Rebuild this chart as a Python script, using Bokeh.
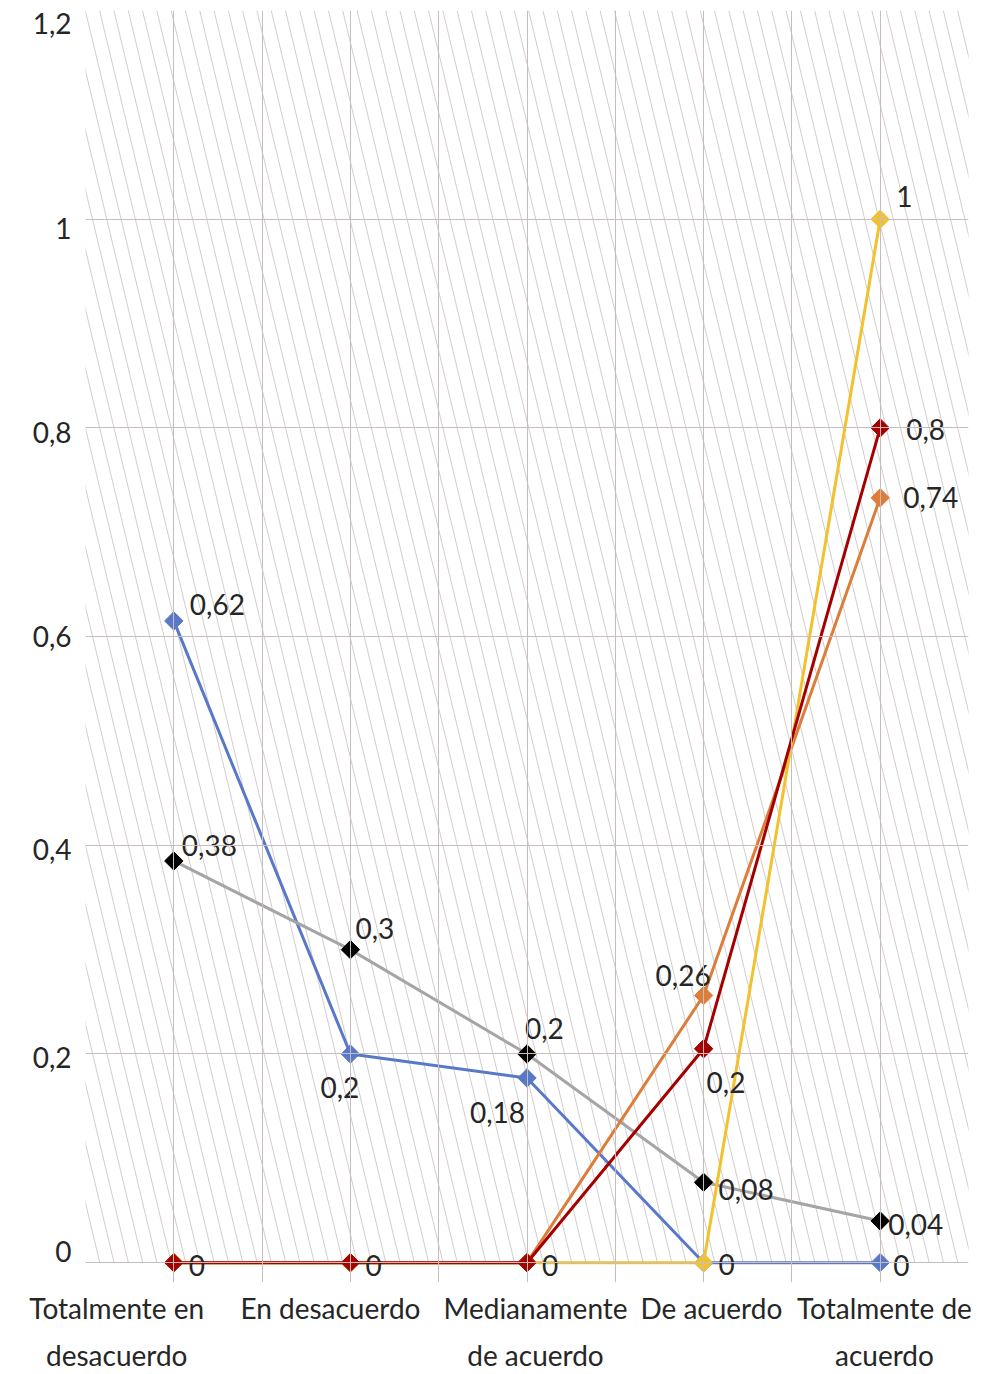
import numpy as np
from bokeh.plotting import figure
from bokeh.models import Range1d, FixedTicker, ColumnDataSource, LinearAxis
from bokeh.core.properties import value
from bokeh.embed import file_html
from bokeh.resources import INLINE

# ---------------- data ----------------
categories = ["Totalmente en\ndesacuerdo", "En desacuerdo", "Medianamente\nde acuerdo",
              "De acuerdo", "Totalmente de\nacuerdo"]
y_ticks = [0, 0.2, 0.4, 0.6, 0.8, 1.0, 1.2]
y_tick_labels = ["0", "0,2", "0,4", "0,6", "0,8", "1", "1,2"]

blue_values = [0.615, 0.2, 0.177, 0.0, 0.0]
blue_labels = ["0,62", "0,2", "0,18", "", "0"]
gray_values = [0.385, 0.3, 0.2, 0.077, 0.04]
gray_labels = ["0,38", "0,3", "0,2", "0,08", "0,04"]
orange_values = [0.0, 0.0, 0.0, 0.256, 0.733]
orange_labels = ["", "", "", "0,26", "0,74"]
yellow_values = [0.0, 0.0, 0.0, 0.0, 1.0]
yellow_labels = ["", "", "", "0", "1"]
red_values = [0.0, 0.0, 0.0, 0.205, 0.8]
red_labels = ["0", "0", "0", "0,2", "0,8"]

# ---------------- styling ----------------
FONT = "Lato"
FS = "28px"
TXT = "#262626"
GRID = "#C6BEBE"
HATCH = "#D3CCCC"

# label offsets in screen pixels (left edge / vertical centre relative to the marker)
blue_dx, blue_dy = [16, -30, -57, 0, 13], [-16, 34, 35, 0, 3]
gray_dx, gray_dy = [8, 5, -2, 15, 8], [-15, -21, -25, 7, 4]
orange_dx, orange_dy = [0, 0, 0, -48, 23], [0, 0, 0, -20, 0]
yellow_dx, yellow_dy = [0, 0, 0, 15, 16], [0, 0, 0, 2, -23]
red_dx, red_dy = [15, 15, 15, 3, 26], [3, 3, 3, 34, 2]
# shift of the category captions (category units) and of the value-axis captions (axis units)
x_label_shift = [-0.323, -0.113, 0.048, 0.044, 0.024]
y_label_shift = [0.0105, -0.003, -0.004, 0.0, -0.004, -0.0086, -0.0125]

xs = list(range(len(categories)))
x_lo, x_hi = -0.5, len(categories) - 0.5
y_lo, y_hi = 0, 1.2
y_pad = -0.019          # a little room under the zero line for markers / labels

p = figure(frame_width=883, frame_height=1272,
           x_range=Range1d(x_lo, x_hi), y_range=Range1d(y_pad, y_hi),
           output_backend="svg", toolbar_location=None,
           min_border_left=85, min_border_right=20, min_border_top=10, min_border_bottom=0)
p.outline_line_color = None
p.background_fill_color = "white"

# background hatch (decoration) computed from frame geometry
px_per_x = 883 / (x_hi - x_lo)
slant_px = 0.24 * 1252
drift = slant_px / px_per_x
step = 14.3 / px_per_x
tops = np.arange(x_lo - drift - step, x_hi + step, step)
p.multi_line(xs=[[t, t + drift] for t in tops], ys=[[y_hi, y_lo]] * len(tops),
             line_color=HATCH, line_width=1)

# grids
p.xgrid.ticker = FixedTicker(ticks=[x_lo + 0.5 * i for i in range(2 * len(categories) + 1)])
p.xgrid.bounds = (y_lo, y_hi)
p.ygrid.ticker = FixedTicker(ticks=y_ticks)
for g in (p.xgrid, p.ygrid):
    g.grid_line_color = GRID
    g.grid_line_width = 1
    g.level = "glyph"

# axes
label_ticks = [i + s for i, s in zip(xs, x_label_shift)]
first_lines = [c.split("\n")[0] for c in categories]
second_lines = [c.split("\n")[1] if "\n" in c else "" for c in categories]

p.xaxis.ticker = FixedTicker(ticks=label_ticks)
p.xaxis.major_label_overrides = {t: l for t, l in zip(label_ticks, first_lines)}
p.xaxis.major_label_standoff = 8
ax2 = LinearAxis(ticker=FixedTicker(ticks=label_ticks),
                 major_label_overrides={t: l for t, l in zip(label_ticks, second_lines)},
                 major_label_standoff=10)
p.add_layout(ax2, "below")

y_label_ticks = [t + s for t, s in zip(y_ticks, y_label_shift)]
p.yaxis.ticker = FixedTicker(ticks=y_label_ticks)
p.yaxis.major_label_overrides = {t: l for t, l in zip(y_label_ticks, y_tick_labels)}
p.yaxis.major_label_standoff = 14
for ax in (p.xaxis[0], ax2, p.yaxis[0]):
    ax.axis_line_color = None
    ax.major_tick_line_color = None
    ax.minor_tick_line_color = None
    ax.major_tick_out = 0
    ax.major_tick_in = 0
    ax.minor_tick_out = 0
    ax.major_label_text_font = FONT
    ax.major_label_text_font_size = FS
    ax.major_label_text_color = TXT
for ax in (p.xaxis[0], ax2):
    ax.major_label_text_line_height = 1.0

series = [
    (blue_values, blue_labels, blue_dx, blue_dy, "#5A78C8", "#5A78C8"),
    (gray_values, gray_labels, gray_dx, gray_dy, "#A5A5A5", "#000000"),
    (orange_values, orange_labels, orange_dx, orange_dy, "#DC7E3A", "#DC7E3A"),
    (yellow_values, yellow_labels, yellow_dx, yellow_dy, "#F2C12E", "#F2C12E"),
    (red_values, red_labels, red_dx, red_dy, "#A50000", "#A50000"),
]

for vals, labs, dx, dy, lc, mc in series:
    src = ColumnDataSource(dict(x=xs, y=vals, t=labs, dx=dx, dy=dy))
    p.line("x", "y", source=src, line_color=lc, line_width=3)
    p.scatter("x", "y", source=src, marker="square", size=13, angle=np.pi / 4,
              fill_color=mc, line_color=mc)

for vals, labs, dx, dy, lc, mc in series:
    src = ColumnDataSource(dict(x=xs, y=vals, t=labs, dx=dx, dy=dy))
    p.text("x", "y", text="t", source=src, x_offset="dx", y_offset="dy",
           text_font=value(FONT), text_font_size=FS, text_color=TXT,
           text_align="left", text_baseline="middle")

open("out.html", "w").write(file_html(p, INLINE))
